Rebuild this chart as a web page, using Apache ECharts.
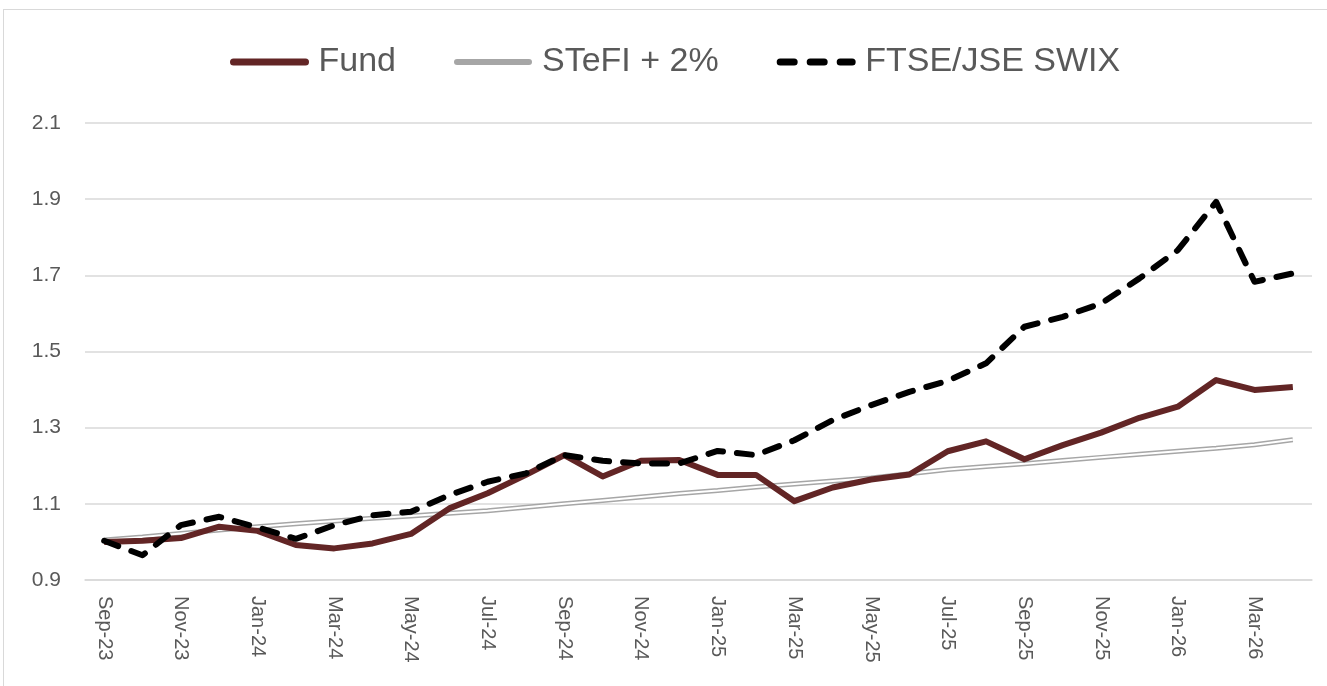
<!DOCTYPE html>
<html>
<head>
<meta charset="utf-8">
<script src="https://cdn.jsdelivr.net/npm/echarts@6/dist/echarts.min.js"></script>
<style>
    html, body { margin: 0; padding: 0; background: #fff; }
    #frame {
        position: absolute; left: 3px; top: 9px; width: 1330px; height: 690px;
        border: 1px solid #d9d9d9; box-sizing: border-box;
    }
    #chart { position: absolute; left: 0; top: 0; width: 1327px; height: 686px; }
</style>
</head>
<body>
<div id="frame"></div>
<div id="chart"></div>
<script>
// 月份
const months = ['Sep-23', 'Oct-23', 'Nov-23', 'Dec-23', 'Jan-24', 'Feb-24', 'Mar-24', 'Apr-24',
    'May-24', 'Jun-24', 'Jul-24', 'Aug-24', 'Sep-24', 'Oct-24', 'Nov-24', 'Dec-24',
    'Jan-25', 'Feb-25', 'Mar-25', 'Apr-25', 'May-25', 'Jun-25', 'Jul-25', 'Aug-25',
    'Sep-25', 'Oct-25', 'Nov-25', 'Dec-25', 'Jan-26', 'Feb-26', 'Mar-26', 'Apr-26'];

// 基金
const fund = [1.00, 1.003, 1.01, 1.04, 1.029, 0.992, 0.983, 0.996, 1.021, 1.088, 1.128, 1.176,
    1.228, 1.172, 1.213, 1.215, 1.176, 1.176, 1.107, 1.143, 1.164, 1.177, 1.238, 1.264,
    1.217, 1.254, 1.287, 1.326, 1.355, 1.425, 1.399, 1.407];

// STeFI + 2%
const stefi = [1.005, 1.013, 1.022, 1.031, 1.040, 1.048, 1.055, 1.062, 1.068, 1.075, 1.082, 1.091,
    1.100, 1.109, 1.118, 1.127, 1.135, 1.144, 1.152, 1.160, 1.168, 1.179, 1.190, 1.198,
    1.205, 1.214, 1.222, 1.230, 1.238, 1.246, 1.255, 1.268];

// FTSE/JSE SWIX
const swix = [1.003, 0.965, 1.044, 1.066, 1.038, 1.008, 1.044, 1.07, 1.079, 1.123, 1.158, 1.18,
    1.228, 1.213, 1.206, 1.206, 1.239, 1.228, 1.267, 1.32, 1.359, 1.394, 1.423, 1.469,
    1.565, 1.591, 1.626, 1.692, 1.766, 1.893, 1.683, 1.705];

const yMin = 0.9, yMax = 2.1, yStep = 0.2;

const textColor = '#595959';
const fontFamily = '"Liberation Sans", Arial, sans-serif';

const chart = echarts.init(document.getElementById('chart'));

const option = {
    animation: false,
    textStyle: { fontFamily: fontFamily },
    legend: {
        data: [
            { name: 'Fund', lineStyle: { width: 7, cap: 'round' } },
            { name: 'STeFI + 2%', lineStyle: { width: 6, color: '#a6a6a6', cap: 'round' } },
            { name: 'FTSE/JSE SWIX', lineStyle: { width: 7, type: [14, 16], cap: 'round' } }
        ],
        top: 40,
        left: 225,
        itemWidth: 72,
        itemHeight: 12,
        itemGap: 58,
        itemStyle: { color: 'rgba(0,0,0,0)', borderColor: 'rgba(0,0,0,0)', borderWidth: 0 },
        textStyle: { color: textColor, fontSize: 34, fontFamily: fontFamily, padding: [0, 0, 0, 8] }
    },
    grid: {
        left: 85,
        right: 15,
        top: 123,
        bottom: 106
    },
    xAxis: {
        type: 'category',
        data: months,
        boundaryGap: true,
        axisLine: { lineStyle: { color: '#d9d9d9', width: 1.5 } },
        axisTick: { interval: 1, length: 8, lineStyle: { color: '#d9d9d9', width: 1.5 } },
        axisLabel: {
            interval: 1,
            rotate: -90,
            margin: 16,
            color: textColor,
            fontSize: 20
        }
    },
    yAxis: {
        type: 'value',
        min: yMin,
        max: yMax,
        interval: yStep,
        axisLine: { show: false },
        axisTick: { show: false },
        axisLabel: {
            color: textColor,
            fontSize: 21,
            margin: 24,
            formatter: function (v) { return v.toFixed(1); }
        },
        splitLine: { lineStyle: { color: '#d9d9d9', width: 1.5 } }
    },
    series: [
        {
            name: 'STeFI + 2%',
            type: 'line',
            data: stefi,
            symbol: 'none',
            lineStyle: { color: '#a6a6a6', width: 5 },
            itemStyle: { color: '#a6a6a6' },
            z: 2
        },
        {
            name: 'STeFI + 2%',
            type: 'line',
            data: stefi,
            symbol: 'none',
            silent: true,
            lineStyle: { color: '#ffffff', width: 2 },
            itemStyle: { color: '#ffffff' },
            z: 3
        },
        {
            name: 'Fund',
            type: 'line',
            data: fund,
            symbol: 'none',
            lineStyle: { color: '#622525', width: 6, join: 'round' },
            itemStyle: { color: '#622525' },
            z: 4
        },
        {
            name: 'FTSE/JSE SWIX',
            type: 'line',
            data: swix,
            symbol: 'none',
            lineStyle: { color: '#000000', width: 6, type: [15, 14], cap: 'round', join: 'round' },
            itemStyle: { color: '#000000' },
            z: 5
        }
    ]
};

chart.setOption(option);

window.addEventListener('resize', function () {
    chart.resize();
});
</script>
</body>
</html>
